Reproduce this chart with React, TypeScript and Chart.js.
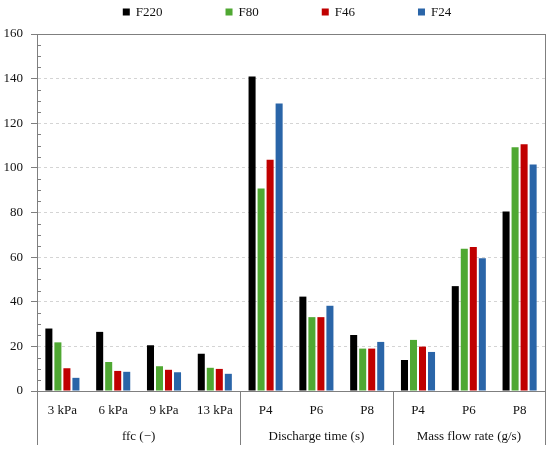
import React, { useEffect, useRef } from 'react';
import { Chart, registerables } from 'chart.js';

Chart.register(...registerables);

const categories = ['3 kPa', '6 kPa', '9 kPa', '13 kPa', 'P4', 'P6', 'P8', 'P4', 'P6', 'P8'];
const groupNames = ['ffc (−)', 'Discharge time (s)', 'Mass flow rate (g/s)'];
const groupSizes = [4, 3, 3];

const seriesNames = ['F220', 'F80', 'F46', 'F24'];
const seriesColors = ['#000000', '#4fa832', '#c00000', '#2a65a8'];
const f220 = [28, 26.5, 20.5, 16.7, 141, 42.3, 25.1, 13.9, 47, 80.5];
const f80 = [21.8, 13, 11.1, 10.4, 90.8, 33.1, 19, 22.9, 63.7, 109.2];
const f46 = [10.2, 9, 9.5, 9.9, 103.6, 33.1, 19, 19.9, 64.5, 110.6];
const f24 = [5.9, 8.6, 8.4, 7.7, 128.9, 38.2, 22, 17.5, 59.5, 101.5];

const yMax = 160;
const yMajor = 20;
const yMinor = 5;

const FONT = '"Liberation Serif", serif';
const AXIS = '#7f7f7f';

// frame, minor ticks, group labels and separators, legend
const decorations = {
  id: 'decorations',
  afterDraw(chart: any) {
    const { ctx, chartArea } = chart;
    const x = chart.scales.x;
    const y = chart.scales.y;
    ctx.save();
    ctx.strokeStyle = AXIS;
    ctx.lineWidth = 1;

    // top frame
    ctx.beginPath();
    ctx.moveTo(chartArea.left, chartArea.top + 0.5);
    ctx.lineTo(chartArea.right, chartArea.top + 0.5);
    ctx.stroke();

    // minor ticks inside the y axis
    ctx.beginPath();
    for (let v = yMinor; v < yMax; v += yMinor) {
      if (v % yMajor === 0) continue;
      const py = Math.round(y.getPixelForValue(v)) + 0.5;
      ctx.moveTo(chartArea.left, py);
      ctx.lineTo(chartArea.left + 4, py);
    }
    ctx.stroke();

    // group separators and labels
    const bottom = chart.height - 6;
    const edges: number[] = [chartArea.left];
    let idx = 0;
    groupSizes.forEach((n) => {
      idx += n;
      if (idx >= categories.length) edges.push(chartArea.right);
      else edges.push((x.getPixelForValue(idx - 1) + x.getPixelForValue(idx)) / 2);
    });
    ctx.beginPath();
    edges.forEach((ex, i) => {
      const px = Math.round(ex) + 0.5;
      ctx.moveTo(px, i === 0 || i === edges.length - 1 ? chartArea.top : chartArea.bottom);
      ctx.lineTo(px, bottom);
    });
    ctx.stroke();

    ctx.fillStyle = '#111';
    ctx.font = `13px ${FONT}`;
    ctx.textAlign = 'center';
    ctx.textBaseline = 'middle';
    groupNames.forEach((g, i) => {
      ctx.fillText(g, (edges[i] + edges[i + 1]) / 2, chartArea.bottom + 46);
    });

    // legend
    const box = 7;
    const gapText = 6;
    const gapItem = 63;
    const widths = seriesNames.map((s) => ctx.measureText(s).width);
    const total = widths.reduce((a, w) => a + box + gapText + w, 0) + gapItem * (seriesNames.length - 1);
    let lx = (chartArea.left + chartArea.right) / 2 - 4 - total / 2;
    const ly = 12;
    ctx.textAlign = 'left';
    seriesNames.forEach((s, i) => {
      ctx.fillStyle = seriesColors[i];
      ctx.fillRect(lx, ly - box / 2, box, box);
      ctx.fillStyle = '#111';
      ctx.fillText(s, lx + box + gapText, ly + 1);
      lx += box + gapText + widths[i] + gapItem;
    });
    ctx.restore();
  },
};

const App: React.FC = () => {
  const canvasRef = useRef<HTMLCanvasElement>(null);
  const chartRef = useRef<Chart | null>(null);

  useEffect(() => {
    if (!canvasRef.current) return;
    const ctx = canvasRef.current.getContext('2d');
    if (!ctx) return;
    if (chartRef.current) chartRef.current.destroy();

    const values = [f220, f80, f46, f24];
    chartRef.current = new Chart(ctx, {
      type: 'bar',
      data: {
        labels: categories,
        datasets: seriesNames.map((name, i) => ({
          label: name,
          data: values[i],
          backgroundColor: seriesColors[i],
          borderWidth: 0,
          categoryPercentage: 0.71,
          barPercentage: 0.78,
        })),
      },
      options: {
        animation: false,
        responsive: true,
        maintainAspectRatio: false,
        layout: { padding: { top: 34, right: 5, bottom: 34, left: 0 } },
        plugins: {
          legend: { display: false },
          tooltip: { enabled: false },
        },
        scales: {
          x: {
            grid: { display: false, drawTicks: false },
            border: { display: true, color: AXIS, width: 1 },
            ticks: { color: '#111', font: { family: FONT, size: 13 }, padding: 12, maxRotation: 0, autoSkip: false },
            afterFit(scale: any) {
              scale.height = 26;
            },
          },
          y: {
            min: 0,
            max: yMax,
            grid: {
              color: (c: any) =>
                c.tick && c.tick.value % yMajor === 0 && c.tick.value > 0 && c.tick.value < yMax ? '#d4d4d4' : 'transparent',
              tickColor: (c: any) => (c.tick && c.tick.value % yMajor === 0 ? AXIS : 'transparent'),
              tickLength: 6,
              lineWidth: 1,
            },
            border: { display: true, color: AXIS, width: 1, dash: [3, 3] },
            ticks: {
              stepSize: yMinor,
              autoSkip: false,
              color: '#111',
              font: { family: FONT, size: 13 },
              padding: 8,
              callback: (v: any) => (Number(v) % yMajor === 0 ? String(v) : ''),
            },
            afterFit(scale: any) {
              scale.width = 37;
            },
          },
        },
      },
      plugins: [decorations],
    });

    return () => {
      if (chartRef.current) {
        chartRef.current.destroy();
        chartRef.current = null;
      }
    };
  }, []);

  return (
    <div style={{ position: 'absolute', left: 0, top: 0, width: 550, height: 451, background: '#fff' }}>
      <canvas ref={canvasRef} />
    </div>
  );
};

export default App;
